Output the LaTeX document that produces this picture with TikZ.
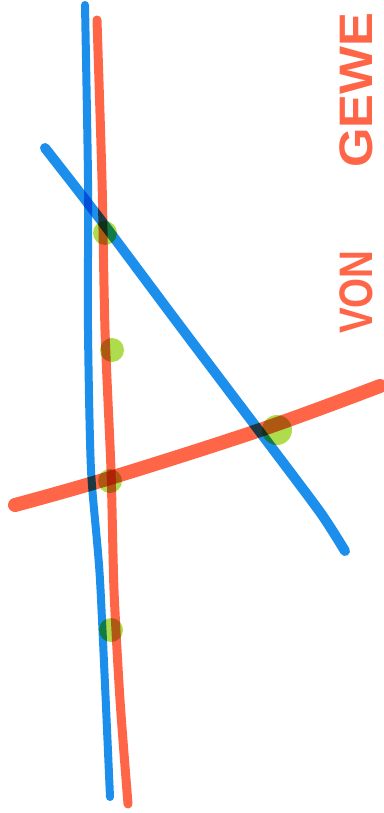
\documentclass[tikz,border=0pt]{standalone}
\usepackage{fontspec}
\setsansfont{Liberation Sans}
\definecolor{pblue}{RGB}{28,142,236}
\definecolor{pred}{RGB}{255,102,72}
\definecolor{pgreen}{RGB}{160,215,45}
\begin{document}
\begin{tikzpicture}[x=1pt,y=-1pt,
  marker/.style={line cap=round,line join=round},
  dot/.style={fill=pgreen,opacity=0.85},
  label/.style={text=pred,font=\sffamily\bfseries\fontsize{47}{47}\selectfont,inner sep=0pt,rotate=90}]
\useasboundingbox (0,0) rectangle (383,813);
\fill[white] (0,0) rectangle (383,813);
\begin{scope}[blend mode=multiply]
% blue near-vertical
\draw[marker,pblue,line width=8] plot[smooth,tension=0.4] coordinates {(85,5) (88,180) (88,330) (91,470) (100,580) (110,797)};
% red near-vertical
\draw[marker,pred,line width=9] plot[smooth,tension=0.4] coordinates {(97,20) (102,180) (105,330) (111,470) (114,590) (120,700) (128,804)};
% blue diagonal
\draw[marker,pblue,line width=10] plot[smooth,tension=0.4] coordinates {(45,148) (97,215) (180,326) (260,432) (320,512) (345,551)};
% red across
\draw[marker,pred,line width=14] plot[smooth,tension=0.6] coordinates {(15,505) (110,478) (260,430) (380,386)};
% green dots
\fill[dot] (105,233) circle (12);
\fill[dot] (112,350) circle (12);
\fill[dot] (110,481) circle (12);
\fill[dot] (277,430) circle (15);
\fill[dot] (111,630) circle (12);
\end{scope}
\node[label,anchor=base] (von) at (372,292) {\scalebox{0.82}[1]{VON}};
\node[label,anchor=base west] (gewe) at (372,168) {\scalebox{1.08}[1]{GEWE}};
\end{tikzpicture}
\end{document}
